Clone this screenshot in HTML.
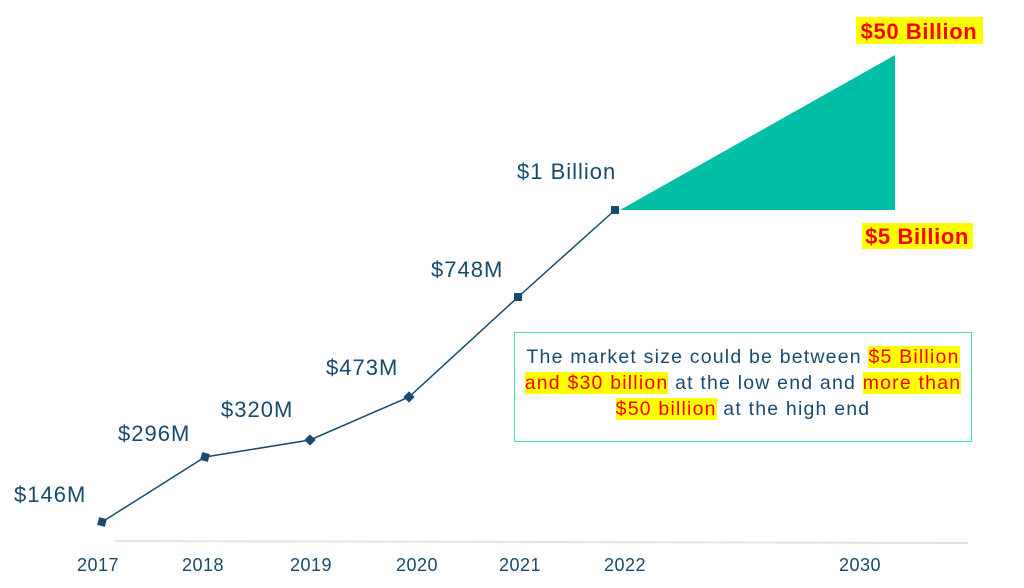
<!DOCTYPE html>
<html><head><meta charset="utf-8"><style>
body{margin:0;width:1024px;height:588px;background:#fff;overflow:hidden;font-family:"Liberation Sans",sans-serif;}
svg text{font-family:"Liberation Sans",sans-serif;}
.box{position:absolute;left:514px;top:332px;width:458px;height:110px;border:1.5px solid #3ee0c4;box-sizing:border-box;text-align:center;font-size:19.5px;letter-spacing:1.2px;line-height:26px;color:#1a4a6e;padding-top:11px;white-space:nowrap;}
.h{background:#ffff00;color:#ff0000;}
</style></head><body>
<svg width="1024" height="588" style="position:absolute;left:0;top:0">
<line x1="115" y1="541" x2="968" y2="543" stroke="#e2e2ee" stroke-width="2"/>
<polygon points="620,210 895,55 895,210" fill="#00bfa5"/>
<polyline points="102,522 205,457 310,440 409,397 518,297 615,210" fill="none" stroke="#174a6e" stroke-width="1.5"/>
<g fill="#174a6e">
<rect x="98" y="518" width="8" height="8" transform="rotate(15 102 522)"/>
<rect x="201" y="453" width="8" height="8" transform="rotate(15 205 457)"/>
<rect x="306" y="436" width="8" height="8" transform="rotate(45 310 440)"/>
<rect x="405" y="393" width="8" height="8" transform="rotate(45 409 397)"/>
<rect x="514" y="293" width="8" height="8"/>
<rect x="611" y="206" width="8" height="8"/>
</g>
<g fill="#174a6e" font-size="22" letter-spacing="1">
<text x="14" y="502">$146M</text>
<text x="118" y="441">$296M</text>
<text x="221" y="417">$320M</text>
<text x="326" y="375">$473M</text>
<text x="431" y="277">$748M</text>
<text x="517" y="179">$1 Billion</text>
</g>
<g fill="#174a6e" font-size="18" text-anchor="middle" letter-spacing="0.5">
<text x="98" y="571">2017</text>
<text x="203" y="571">2018</text>
<text x="311" y="571">2019</text>
<text x="417" y="571">2020</text>
<text x="520" y="571">2021</text>
<text x="625" y="571">2022</text>
<text x="860" y="571">2030</text>
</g>
<rect x="856" y="17" width="127" height="27" fill="#ffff00"/>
<text x="919" y="39" text-anchor="middle" font-size="22" letter-spacing="0.6" font-weight="bold" fill="#ff0000">$50 Billion</text>
<rect x="862" y="223" width="111" height="26" fill="#ffff00"/>
<text x="917" y="244" text-anchor="middle" font-size="22" letter-spacing="0.6" font-weight="bold" fill="#ff0000">$5 Billion</text>
</svg>
<div class="box">The market size could be between <span class="h">$5 Billion </span><br><span class="h">and $30 billion</span> at the low end and <span class="h">more than </span><br><span class="h">$50 billion</span> at the high end</div>
</body></html>
